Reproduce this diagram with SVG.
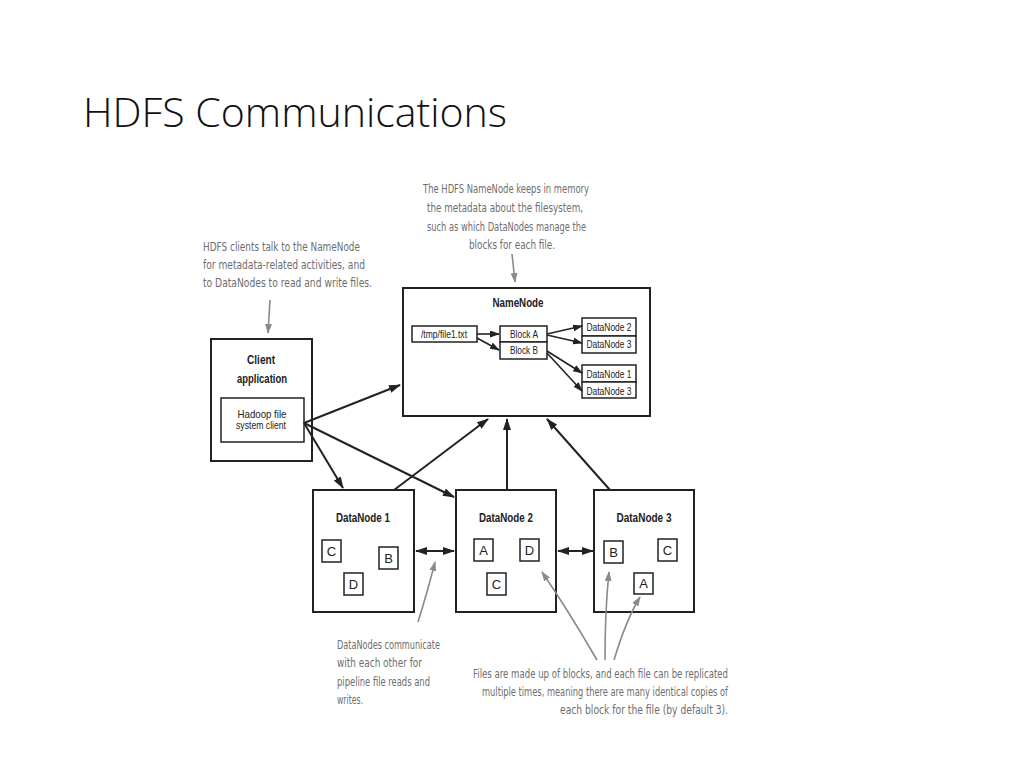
<svg xmlns="http://www.w3.org/2000/svg" width="1024" height="768" viewBox="0 0 1024 768">
<style>
.box{fill:#fff;stroke:#222;stroke-width:2}
.ibox{fill:#fff;stroke:#222;stroke-width:1.5}
.lbl{font-family:"Liberation Sans",Arial,sans-serif;fill:#222;text-anchor:middle}
.b{font-weight:bold;font-size:13px}
.s{font-size:11px}
.let{font-size:13px}
.conn{stroke:#222;stroke-width:2;fill:none}
.conn2{stroke:#222;stroke-width:1.6;fill:none}
.note{font-family:"DejaVu Sans Condensed","DejaVu Sans","Liberation Sans",sans-serif;font-size:12px;fill:#6e6e6e}
.garr{stroke:#8a8a8a;stroke-width:1.6;fill:none}
</style>
<defs>
<marker id="ah" markerUnits="userSpaceOnUse" markerWidth="12" markerHeight="8" refX="11" refY="4" orient="auto-start-reverse"><path d="M0,0 L12,4 L0,8 z" fill="#222"/></marker>
<marker id="ahs" markerUnits="userSpaceOnUse" markerWidth="10" markerHeight="7" refX="9" refY="3.5" orient="auto"><path d="M0,0 L10,3.5 L0,7 z" fill="#222"/></marker>
<marker id="gah" markerUnits="userSpaceOnUse" markerWidth="10" markerHeight="7" refX="9" refY="3.5" orient="auto"><path d="M0,0 L10,3.5 L0,7 z" fill="#8a8a8a"/></marker>
</defs>
<rect width="1024" height="768" fill="#fff"/>
<text x="83" y="127" font-family="'Open Sans','Liberation Sans',sans-serif" font-weight="300" font-size="40" fill="#111" textLength="424" lengthAdjust="spacingAndGlyphs">HDFS Communications</text>

<g id="namenode">
<rect class="box" x="403" y="288" width="247" height="128"/>
<text class="lbl b" x="518" y="307" textLength="51" lengthAdjust="spacingAndGlyphs">NameNode</text>
<rect class="ibox" x="412" y="326" width="65" height="16"/>
<text class="lbl s" x="444" y="338" textLength="46" lengthAdjust="spacingAndGlyphs">/tmp/file1.txt</text>
<rect class="ibox" x="500" y="326" width="47" height="16"/>
<text class="lbl s" x="524" y="338" textLength="28" lengthAdjust="spacingAndGlyphs">Block A</text>
<rect class="ibox" x="500" y="342" width="47" height="17"/>
<text class="lbl s" x="524" y="354" textLength="28" lengthAdjust="spacingAndGlyphs">Block B</text>
<rect class="ibox" x="582" y="318" width="54" height="18"/>
<text class="lbl s" x="609" y="331" textLength="45" lengthAdjust="spacingAndGlyphs">DataNode 2</text>
<rect class="ibox" x="582" y="336" width="54" height="17"/>
<text class="lbl s" x="609" y="348" textLength="45" lengthAdjust="spacingAndGlyphs">DataNode 3</text>
<rect class="ibox" x="582" y="365" width="54" height="17"/>
<text class="lbl s" x="609" y="378" textLength="45" lengthAdjust="spacingAndGlyphs">DataNode 1</text>
<rect class="ibox" x="582" y="382" width="54" height="16"/>
<text class="lbl s" x="609" y="395" textLength="45" lengthAdjust="spacingAndGlyphs">DataNode 3</text>
</g>

<g id="client">
<rect class="box" x="211" y="339" width="101" height="122"/>
<text class="lbl b" x="261" y="364" textLength="28" lengthAdjust="spacingAndGlyphs">Client</text>
<text class="lbl b" x="262" y="383" textLength="50" lengthAdjust="spacingAndGlyphs">application</text>
<rect class="ibox" x="221" y="398" width="83" height="44"/>
<text class="lbl s" x="262" y="418" textLength="49" lengthAdjust="spacingAndGlyphs">Hadoop file</text>
<text class="lbl s" x="261" y="429" textLength="50" lengthAdjust="spacingAndGlyphs">system client</text>
</g>

<g id="datanode1">
<rect class="box" x="313" y="490" width="101" height="122"/>
<text class="lbl b" x="363" y="522" textLength="54" lengthAdjust="spacingAndGlyphs">DataNode 1</text>
<rect class="ibox" x="322" y="540" width="19" height="22"/><text class="lbl let" x="331.5" y="556">C</text>
<rect class="ibox" x="379" y="547" width="19" height="22"/><text class="lbl let" x="388.5" y="563">B</text>
<rect class="ibox" x="344" y="573" width="19" height="22"/><text class="lbl let" x="353.5" y="589">D</text>
</g>

<g id="datanode2">
<rect class="box" x="456" y="490" width="100" height="122"/>
<text class="lbl b" x="506" y="522" textLength="54" lengthAdjust="spacingAndGlyphs">DataNode 2</text>
<rect class="ibox" x="474" y="539" width="19" height="22"/><text class="lbl let" x="483.5" y="555">A</text>
<rect class="ibox" x="520" y="539" width="19" height="22"/><text class="lbl let" x="529.5" y="555">D</text>
<rect class="ibox" x="487" y="573" width="19" height="22"/><text class="lbl let" x="496.5" y="589">C</text>
</g>

<g id="datanode3">
<rect class="box" x="594" y="490" width="100" height="122"/>
<text class="lbl b" x="644" y="522" textLength="55" lengthAdjust="spacingAndGlyphs">DataNode 3</text>
<rect class="ibox" x="604" y="541" width="19" height="22"/><text class="lbl let" x="613.5" y="557">B</text>
<rect class="ibox" x="658" y="539" width="19" height="22"/><text class="lbl let" x="667.5" y="555">C</text>
<rect class="ibox" x="634" y="573" width="19" height="21"/><text class="lbl let" x="643.5" y="588">A</text>
</g>

<g id="connectors">
<line class="conn" x1="304" y1="423" x2="400" y2="385" marker-end="url(#ah)"/>
<line class="conn" x1="304" y1="423" x2="343" y2="488" marker-end="url(#ah)"/>
<line class="conn" x1="304" y1="423" x2="454" y2="497" marker-end="url(#ah)"/>
<line class="conn" x1="394" y1="490" x2="488" y2="419" marker-end="url(#ah)"/>
<line class="conn" x1="507" y1="490" x2="507" y2="419" marker-end="url(#ah)"/>
<line class="conn" x1="610" y1="490" x2="547" y2="419" marker-end="url(#ah)"/>
<line class="conn" x1="416" y1="551" x2="454" y2="551" marker-start="url(#ah)" marker-end="url(#ah)"/>
<line class="conn" x1="558" y1="551" x2="593" y2="551" marker-start="url(#ah)" marker-end="url(#ah)"/>
<line class="conn2" x1="477" y1="334" x2="499" y2="334" marker-end="url(#ahs)"/>
<line class="conn2" x1="477" y1="338" x2="499" y2="350" marker-end="url(#ahs)"/>
<line class="conn2" x1="547" y1="334" x2="582" y2="326" marker-end="url(#ahs)"/>
<line class="conn2" x1="547" y1="335" x2="582" y2="343" marker-end="url(#ahs)"/>
<line class="conn2" x1="547" y1="351" x2="582" y2="373" marker-end="url(#ahs)"/>
<line class="conn2" x1="547" y1="353" x2="582" y2="391" marker-end="url(#ahs)"/>
<path class="garr" d="M512,254 L515,282" marker-end="url(#gah)"/>
<path class="garr" d="M270,300 L268,333" marker-end="url(#gah)"/>
<path class="garr" d="M418,622 Q428,590 435,562" marker-end="url(#gah)"/>
<path class="garr" d="M597,660 Q568,610 542,572" marker-end="url(#gah)"/>
<path class="garr" d="M605,660 Q605,610 609,572" marker-end="url(#gah)"/>
<path class="garr" d="M614,660 Q626,620 640,597" marker-end="url(#gah)"/>
</g>

<g id="note-namenode">
<text class="note" x="423" y="193" textLength="166" lengthAdjust="spacingAndGlyphs">The HDFS NameNode keeps in memory</text>
<text class="note" x="427" y="212" textLength="156" lengthAdjust="spacingAndGlyphs">the metadata about the filesystem,</text>
<text class="note" x="427" y="231" textLength="159" lengthAdjust="spacingAndGlyphs">such as which DataNodes manage the</text>
<text class="note" x="469" y="249" textLength="86" lengthAdjust="spacingAndGlyphs">blocks for each file.</text>
</g>
<g id="note-client">
<text class="note" x="203" y="251" textLength="157" lengthAdjust="spacingAndGlyphs">HDFS clients talk to the NameNode</text>
<text class="note" x="203" y="269" textLength="162" lengthAdjust="spacingAndGlyphs">for metadata-related activities, and</text>
<text class="note" x="203" y="287" textLength="169" lengthAdjust="spacingAndGlyphs">to DataNodes to read and write files.</text>
</g>
<g id="note-datanodes">
<text class="note" x="337" y="649" textLength="103" lengthAdjust="spacingAndGlyphs">DataNodes communicate</text>
<text class="note" x="337" y="667" textLength="85" lengthAdjust="spacingAndGlyphs">with each other for</text>
<text class="note" x="337" y="686" textLength="93" lengthAdjust="spacingAndGlyphs">pipeline file reads and</text>
<text class="note" x="337" y="704" textLength="26" lengthAdjust="spacingAndGlyphs">writes.</text>
</g>
<g id="note-blocks">
<text class="note" x="473" y="678" textLength="255" lengthAdjust="spacingAndGlyphs">Files are made up of blocks, and each file can be replicated</text>
<text class="note" x="482" y="696" textLength="246" lengthAdjust="spacingAndGlyphs">multiple times, meaning there are many identical copies of</text>
<text class="note" x="560" y="714" textLength="168" lengthAdjust="spacingAndGlyphs">each block for the file (by default 3).</text>
</g>
</svg>
